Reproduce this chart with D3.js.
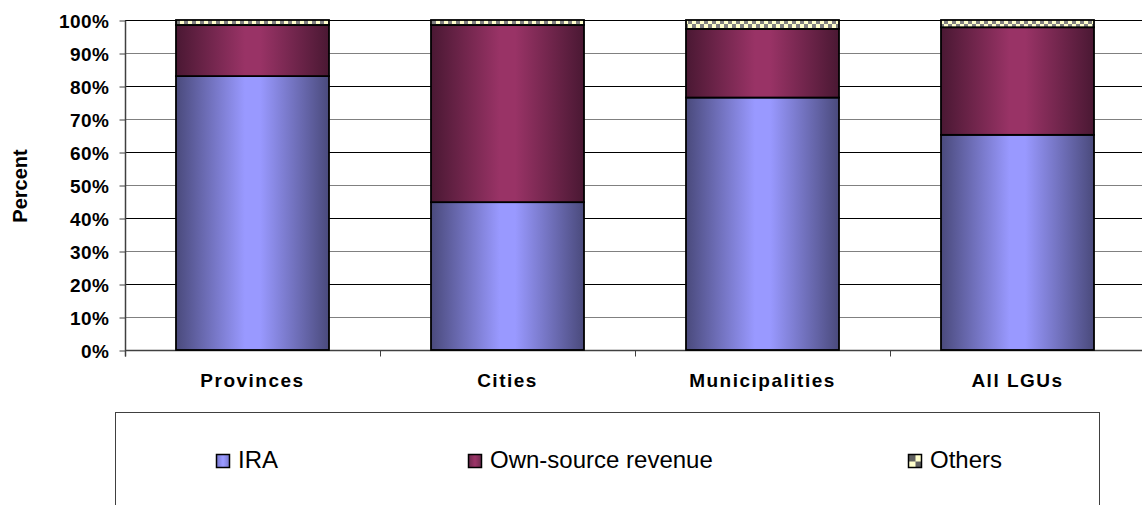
<!DOCTYPE html>
<html><head><meta charset="utf-8">
<script src="https://cdn.jsdelivr.net/npm/d3@7"></script>
<style>body{margin:0;background:#fff}svg{display:block;font-family:"Liberation Sans",Arial,sans-serif}</style>
</head><body>
<svg id="c" width="1142" height="505"></svg>
<script>
const categories = ["Provinces","Cities","Municipalities","All LGUs"];
const seriesNames = ["IRA","Own-source revenue","Others"];
const ira = [83.0, 44.8, 76.5, 65.2];
const ownSource = [15.5, 53.7, 20.8, 32.6];
const others = [1.5, 1.5, 2.7, 2.2];
const yTicks = [0,10,20,30,40,50,60,70,80,90,100];

(function(){
const svg = d3.select("#c");
const defs = svg.append("defs");
function grad(id, edge, mid){
  const g = defs.append("linearGradient").attr("id",id).attr("x1","0").attr("x2","1").attr("y1","0").attr("y2","0");
  g.append("stop").attr("offset","0%").attr("stop-color",edge);
  g.append("stop").attr("offset","45%").attr("stop-color",mid);
  g.append("stop").attr("offset","55%").attr("stop-color",mid);
  g.append("stop").attr("offset","100%").attr("stop-color",edge);
}
grad("gIRA","#4a4a7c","#9999ff");
grad("gOwn","#4a1833","#993366");
grad("sIRA","#7777cc","#9999ff");
grad("sOwn","#6a2a4c","#993366");
const pat = defs.append("pattern").attr("id","pOth").attr("patternUnits","userSpaceOnUse").attr("width",8).attr("height",8);
pat.append("rect").attr("width",8).attr("height",8).attr("fill","#ffffcc");
pat.append("rect").attr("x",4).attr("y",0).attr("width",4).attr("height",4).attr("fill","#808080");
pat.append("rect").attr("x",0).attr("y",4).attr("width",4).attr("height",4).attr("fill","#808080");
const pat2 = defs.append("pattern").attr("id","sOth").attr("patternUnits","objectBoundingBox").attr("width",1).attr("height",1);
pat2.append("rect").attr("width",14).attr("height",14).attr("fill","#ffffcc");
pat2.append("rect").attr("x",0).attr("y",0).attr("width",7).attr("height",7).attr("fill","#606060");
pat2.append("rect").attr("x",7).attr("y",7).attr("width",7).attr("height",7).attr("fill","#606060");
const fills = ["url(#gIRA)","url(#gOwn)","url(#pOth)"];
const swatchFills = ["url(#sIRA)","url(#sOwn)","url(#sOth)"];

const pLeft = 125, pRight = 1145, pTop = 20, pBottom = 350;
const x = d3.scaleBand().domain(categories).range([pLeft,pRight]).paddingInner(0.4).paddingOuter(0.2);
const xb = d3.scaleBand().domain(categories).range([pLeft,pRight]);
const y = d3.scaleLinear().domain([0,100]).range([pBottom,pTop]);

// gridlines
svg.append("g").selectAll("line").data(yTicks.filter(d=>d>0)).join("line")
  .attr("x1",pLeft).attr("x2",1142)
  .attr("y1",d=>Math.round(y(d))+0.5).attr("y2",d=>Math.round(y(d))+0.5)
  .attr("stroke",(d,i)=>i%2? "#000":"#808080").attr("stroke-width",1);

// y axis
const yAxis = d3.axisLeft(y).tickValues(yTicks).tickFormat(d=>d+"%").tickSize(6).tickPadding(10);
const ya = svg.append("g").attr("transform",`translate(${pLeft+0.5},0.5)`).call(yAxis);
ya.select(".domain").attr("stroke","#404040").attr("stroke-width",1.5).attr("d",`M0,${pTop}V${pBottom+6}`);
ya.selectAll(".tick line").attr("stroke","#404040");
ya.selectAll(".tick text").attr("font-size",19).attr("font-weight","bold").attr("fill","#000")
  .attr("letter-spacing","0.5px").attr("dy","0.35em")
  .attr("font-family","'Liberation Sans',Arial,sans-serif");

// x axis
const xa = svg.append("g").attr("transform",`translate(0,${pBottom+0.5})`);
xa.append("line").attr("x1",pLeft).attr("x2",1142).attr("stroke","#404040").attr("stroke-width",1.5);
xa.selectAll("line.t").data(categories.concat(["_end"])).join("line").attr("class","t")
  .attr("x1",(d,i)=>Math.round(pLeft+i*xb.bandwidth())+0.5).attr("x2",(d,i)=>Math.round(pLeft+i*xb.bandwidth())+0.5)
  .attr("y1",0).attr("y2",6).attr("stroke","#404040");
xa.selectAll("text").data(categories).join("text")
  .attr("x",d=>x(d)+x.bandwidth()/2).attr("y",36.5)
  .attr("text-anchor","middle").attr("font-size",19).attr("font-weight","bold").attr("letter-spacing","1.5px")
  .text(d=>d);

// bars
const stackData = categories.map((c,i)=>({cat:c, vals:[ira[i],ownSource[i],others[i]]}));
stackData.forEach(d=>{
  let acc=0;
  d.segs = d.vals.map((v,k)=>{const s={k, y0:acc, y1:acc+v}; acc+=v; return s;});
});
const bars = svg.append("g");
stackData.forEach(d=>{
  bars.append("g").selectAll("rect").data(d.segs).join("rect")
    .attr("x",x(d.cat)).attr("width",x.bandwidth())
    .attr("y",s=>y(s.y1)).attr("height",s=>y(s.y0)-y(s.y1))
    .attr("fill",s=>fills[s.k]).attr("stroke","#000").attr("stroke-width",1.8);
});

// y label
svg.append("text").attr("transform","translate(27,186) rotate(-90)").attr("text-anchor","middle")
  .attr("font-size",20).attr("font-weight","bold").text("Percent");

// legend
svg.append("rect").attr("x",115.5).attr("y",412.5).attr("width",984).attr("height",110)
  .attr("fill","#fff").attr("stroke","#404040").attr("stroke-width",1);
const legX = [216, 468, 908];
const lg = svg.append("g").selectAll("g").data(seriesNames).join("g")
  .attr("transform",(d,i)=>`translate(${legX[i]},454)`);
lg.append("rect").attr("x",0.5).attr("y",0.5).attr("width",13).attr("height",13)
  .attr("fill",(d,i)=>swatchFills[i]).attr("stroke","#000").attr("stroke-width",1.5);
lg.append("text").attr("x",22).attr("y",14).attr("font-size",24).text(d=>d);
})();
</script>
</body></html>
